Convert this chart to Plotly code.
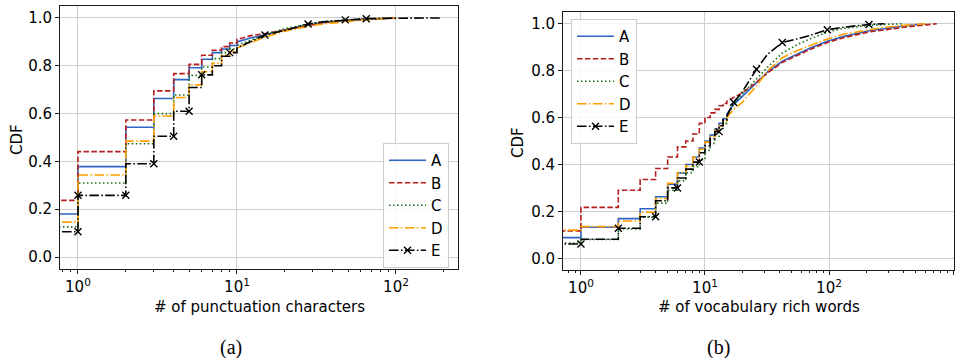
import plotly.graph_objects as go

# ---------------- data: panel (a) — # of punctuation characters ----------------
punct_x = [0, 1, 2, 3, 4, 5, 6, 7, 8, 9, 10, 12, 15, 20, 28, 35, 48, 65, 100, 190]
punct_A = [0.180, 0.378, 0.543, 0.663, 0.742, 0.792, 0.827, 0.855, 0.870, 0.885, 0.900,
           0.915, 0.930, 0.950, 0.970, 0.980, 0.990, 0.995, 1.000, None]
punct_B = [0.237, 0.441, 0.573, 0.695, 0.767, 0.806, 0.844, 0.865, 0.880, 0.895, 0.910,
           0.925, 0.935, 0.950, 0.970, 0.980, 0.990, 0.995, 1.000, None]
punct_C = [0.126, 0.310, 0.474, 0.600, 0.678, 0.760, 0.795, 0.830, 0.855, 0.870, 0.885,
           0.905, 0.930, 0.955, 0.975, 0.985, 0.990, 0.997, 1.000, None]
punct_D = [0.146, 0.343, 0.485, 0.590, 0.667, 0.720, 0.775, 0.810, 0.845, 0.860, 0.875,
           0.895, 0.920, 0.945, 0.965, 0.975, 0.985, 0.993, 1.000, None]
punct_E = [0.106, 0.258, 0.390, 0.505, 0.610, 0.709, 0.762, 0.800, 0.840, 0.855, 0.875,
           0.900, 0.929, 0.948, 0.975, 0.984, 0.992, 0.997, 0.999, 1.000]
punct_E_marks_lo = [1, 2, 3, 4, 5]          # indices into punct_x (bottom of the jump)
punct_E_marks_hi = [1, 6, 9, 12, 14, 16, 17]  # indices into punct_x (top of the jump)

# ---------------- data: panel (b) — # of vocabulary rich words ----------------
vocab_x = [0, 1, 2, 3, 4, 5, 6, 7, 8, 9, 10, 11, 12, 13, 14, 15,
           17, 20, 26, 32, 42, 55, 70, 97, 130, 210, 280, 400, 600, 740]
vocab_A = [0.088, 0.132, 0.169, 0.211, 0.262, 0.316, 0.364, 0.400, 0.432, 0.470, 0.500, 0.525, 0.550, 0.575, 0.595, 0.615,
           0.655, 0.690, 0.750, 0.795, 0.840, 0.870, 0.895, 0.925, 0.945, 0.970, 0.980, 0.990, 1.000, None]
vocab_B = [0.117, 0.217, 0.290, 0.336, 0.383, 0.432, 0.475, 0.500, 0.530, 0.575, 0.600, 0.620, 0.635, 0.650, 0.660, 0.670,
           0.685, 0.705, 0.750, 0.790, 0.835, 0.865, 0.890, 0.920, 0.940, 0.965, 0.975, 0.985, 0.995, 1.000]
vocab_C = [0.065, 0.080, 0.125, 0.175, 0.235, 0.290, 0.330, 0.365, 0.390, 0.420, 0.460, 0.490, 0.520, 0.550, 0.575, 0.600,
           0.655, 0.700, 0.765, 0.815, 0.875, 0.910, 0.935, 0.965, 0.980, 0.993, 0.997, 1.000, None, None]
vocab_D = [0.120, 0.135, 0.159, 0.196, 0.255, 0.320, 0.366, 0.394, 0.430, 0.465, 0.495, 0.520, 0.545, 0.565, 0.585, 0.600,
           0.635, 0.665, 0.735, 0.800, 0.855, 0.885, 0.905, 0.935, 0.955, 0.975, 0.985, 0.993, 1.000, None]
vocab_E = [0.061, 0.081, 0.128, 0.177, 0.245, 0.300, 0.342, 0.380, 0.410, 0.450, 0.480, 0.510, 0.540, 0.565, 0.590, 0.605,
           0.665, 0.710, 0.806, 0.870, 0.920, 0.935, 0.950, 0.974, 0.985, 0.997, 1.000, None, None, None]
vocab_E_marks_lo = [1, 4, 6, 9, 13]
vocab_E_marks_hi = [2, 16, 18, 20, 23, 25]

series_names = ["A", "B", "C", "D", "E"]
x_ticks_a = [1, 10, 100]
x_ticks_b = [1, 10, 100, 1000]
x_ticktext_a = ["10<sup>0</sup>", "10<sup>1</sup>", "10<sup>2</sup>"]
x_ticktext_b = ["10<sup>0</sup>", "10<sup>1</sup>", "10<sup>2</sup>", "10<sup>3</sup>"]
y_ticks = [0.0, 0.2, 0.4, 0.6, 0.8, 1.0]

# ---------------- styles ----------------
COLORS = {"A": "#2e64c6", "B": "#b41e1e", "C": "#167016", "D": "#ffa000", "E": "#000000"}
DASHES = {"A": "solid", "B": "5.5px,2.4px", "C": "1.5px,2.5px",
          "D": "9.6px,2.4px,1.5px,2.4px", "E": "9.6px,2.4px,1.5px,2.4px"}
FONT = "DejaVu Sans"
FS = 15
W, H = 965, 358


def cdf_path(xs, ys, step_until, clip=0.1):
    """Empirical CDF path: vertical jumps at integer values, smooth in the tail."""
    px, py, tags = [], [], []
    prev = None
    for i, (x, y) in enumerate(zip(xs, ys)):
        if y is None:
            break
        xv = x if x > 0 else clip
        if prev is not None and x <= step_until:
            px.append(xv); py.append(prev); tags.append((i, "lo"))
        px.append(xv); py.append(y); tags.append((i, "hi"))
        prev = y
    return px, py, tags


fig = go.Figure()

panels = [
    dict(x=punct_x, data=[punct_A, punct_B, punct_C, punct_D, punct_E], step=10,
         lo=punct_E_marks_lo, hi=punct_E_marks_hi, xa="x", ya="y", legend="legend"),
    dict(x=vocab_x, data=[vocab_A, vocab_B, vocab_C, vocab_D, vocab_E], step=15,
         lo=vocab_E_marks_lo, hi=vocab_E_marks_hi, xa="x2", ya="y2", legend="legend2"),
]

for p in panels:
    for name, ys in zip(series_names, p["data"]):
        px, py, tags = cdf_path(p["x"], ys, p["step"])
        tr = dict(x=px, y=py, name=name, xaxis=p["xa"], yaxis=p["ya"], legend=p["legend"],
                  legendgroup=p["legend"] + name,
                  line=dict(color=COLORS[name], width=1.6, dash=DASHES[name]))
        if name == "E":
            wanted = [(j, "lo") for j in p["lo"]] + [(j, "hi") for j in p["hi"]]
            marked = [t in wanted for t in tags]
            marked[0] = True  # first vertex lies off-axis (clipped); sets legend colour
            cols = ["#000000" if m else "rgba(0,0,0,0)" for m in marked]
            tr.update(mode="lines+markers",
                      marker=dict(symbol="x-thin", size=7, color=cols,
                                  line=dict(color=cols, width=1.4)))
        else:
            tr.update(mode="lines")
        fig.add_trace(go.Scatter(**tr))


def minor_vals(lo_exp, hi_exp):
    out = []
    for e in range(lo_exp, hi_exp + 1):
        for m in range(2, 10):
            out.append(m * 10 ** e)
    return out


axis_common = dict(showline=True, mirror=True, linecolor="#1a1a1a", linewidth=1,
                   ticks="outside", ticklen=4, tickwidth=1, tickcolor="#1a1a1a",
                   showgrid=True, gridcolor="#cfcfcf", gridwidth=1, zeroline=False,
                   tickfont=dict(family=FONT, size=FS, color="black"))

ya_dom = [(H - 269) / H, (H - 6) / H]
yb_dom = [(H - 270) / H, (H - 12) / H]

legend_common = dict(xanchor="left", yanchor="top",
                     bgcolor="rgba(255,255,255,0.85)", bordercolor="#cccccc", borderwidth=1,
                     font=dict(family=FONT, size=FS), tracegroupgap=0, itemwidth=37)

fig.update_layout(
    width=W, height=H, margin=dict(l=0, r=0, t=0, b=0),
    plot_bgcolor="white", paper_bgcolor="white",
    font=dict(family=FONT, size=FS, color="black"),
    xaxis=dict(type="log", domain=[60 / W, 458 / W], range=[-0.113, 2.39], anchor="y",
               tickmode="array", tickvals=x_ticks_a, ticktext=x_ticktext_a,
               minor=dict(ticks="outside", ticklen=2, tickcolor="#1a1a1a", tickmode="array",
                          tickvals=minor_vals(-1, 2), showgrid=False),
               **axis_common),
    yaxis=dict(domain=ya_dom, range=[-0.05, 1.05], anchor="x", tickmode="array",
               tickvals=y_ticks, tickformat=".1f", **axis_common),
    xaxis2=dict(type="log", domain=[563 / W, 954 / W], range=[-0.145, 3.008], anchor="y2",
                tickmode="array", tickvals=x_ticks_b, ticktext=x_ticktext_b,
                minor=dict(ticks="outside", ticklen=2, tickcolor="#1a1a1a", tickmode="array",
                           tickvals=minor_vals(-1, 2), showgrid=False),
                **axis_common),
    yaxis2=dict(domain=yb_dom, range=[-0.05, 1.05], anchor="x2", tickmode="array",
                tickvals=y_ticks, tickformat=".1f", **axis_common),
    legend=dict(x=383 / W, y=(H - 143) / H, **legend_common),
    legend2=dict(x=571 / W, y=(H - 19) / H, **legend_common),
    showlegend=True,
)

annotations = [
    dict(text="# of punctuation characters", x=259 / W, y=(H - 307) / H, size=FS, fam=FONT, angle=0),
    dict(text="# of vocabulary rich words", x=758.5 / W, y=(H - 307) / H, size=FS, fam=FONT, angle=0),
    dict(text="CDF", x=17 / W, y=(H - 140) / H, size=FS, fam=FONT, angle=-90),
    dict(text="CDF", x=518 / W, y=(H - 143) / H, size=FS, fam=FONT, angle=-90),
    dict(text="(a)", x=231 / W, y=(H - 347) / H, size=20, fam="Liberation Serif", angle=0),
    dict(text="(b)", x=718 / W, y=(H - 347) / H, size=20, fam="Liberation Serif", angle=0),
]
for a in annotations:
    fig.add_annotation(text=a["text"], x=a["x"], y=a["y"], xref="paper", yref="paper",
                       xanchor="center", yanchor="middle", showarrow=False, textangle=a["angle"],
                       font=dict(family=a["fam"], size=a["size"], color="black"))

fig.write_html("out.html")
